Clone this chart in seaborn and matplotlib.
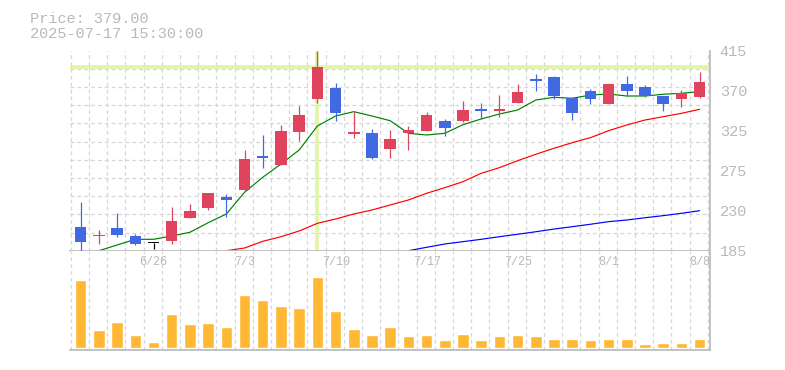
import numpy as np
import pandas as pd
import matplotlib
matplotlib.use("Agg")
import matplotlib.pyplot as plt
import matplotlib.transforms as mtransforms
import seaborn as sns

# daily candles, 2025-06-20 .. 2025-08-08 (35 sessions)
opens = [212.3, 201.5, 211.1, 201.9, 193.9, 196.2, 223.0, 234.5, 246.8, 254.8,
         293.9, 283.6, 321.9, 359.5, 372.1, 319.5, 320.4, 302.3, 320.7, 323.0,
         334.2, 334.5, 346.8, 346.0, 354.5, 382.1, 384.8, 360.3, 368.7, 354.0,
         376.7, 373.3, 362.9, 359.8, 362.1]
highs = [241.0, 208.8, 228.4, 203.9, 193.9, 235.6, 238.7, 251.4, 250.2, 300.8,
         318.0, 329.6, 351.4, 415.0, 378.2, 345.7, 325.0, 323.8, 328.4, 344.5,
         336.5, 357.2, 354.9, 364.0, 376.7, 388.2, 385.9, 361.4, 370.6, 377.9,
         385.9, 375.6, 362.9, 369.5, 390.5]
lows = [185.0, 193.0, 201.1, 191.9, 187.3, 193.0, 223.0, 231.7, 224.1, 253.7,
        280.5, 283.0, 311.5, 355.2, 334.5, 315.0, 290.8, 292.0, 301.2, 323.0,
        317.3, 333.4, 336.5, 338.4, 354.5, 369.0, 359.1, 335.3, 354.0, 354.0,
        363.3, 362.1, 346.0, 350.6, 361.0]
closes = [195.4, 202.5, 203.0, 193.0, 193.9, 219.2, 230.7, 251.4, 243.7, 290.5,
          292.0, 322.7, 341.0, 396.6, 343.7, 321.9, 292.0, 313.5, 323.8, 341.0,
          326.5, 346.8, 346.0, 346.8, 367.5, 380.5, 363.3, 343.7, 359.8, 376.7,
          369.0, 362.9, 354.0, 366.0, 379.0]
volumes = [677, 177, 257, 127, 57, 337, 237, 247, 207, 527,
           477, 417, 397, 707, 367, 187, 127, 207, 117, 127,
           77, 137, 77, 117, 127, 117, 87, 87, 77, 87,
           87, 37, 47, 47, 87]

# moving averages (short / mid / long)
ma_short = [np.nan, 185.0, 191.6, 198.1, 198.1, 201.9, 206.2, 217.2, 227.2, 252.2,
            269.4, 284.7, 300.8, 328.4, 339.9, 344.9, 339.9, 334.5, 320.0, 318.1,
            320.0, 329.9, 336.5, 342.2, 346.8, 358.3, 361.4, 360.3, 364.0, 365.2,
            362.9, 362.9, 364.9, 366.0, 367.9]
ma_mid = [np.nan] * 8 + [185.0, 188.1, 195.8, 201.1, 207.7, 216.5, 221.4, 227.2,
                         231.8, 237.6, 243.3, 251.0, 257.5, 264.4, 274.0, 280.5,
                         288.5, 295.9, 302.8, 309.2, 315.0, 323.0, 329.6, 335.3,
                         339.1, 343.0, 347.6]
ma_long = [np.nan] * 18 + [185.0, 188.9, 192.7, 195.4, 198.1, 201.1, 203.9, 206.8,
                           209.9, 212.6, 215.4, 218.4, 220.3, 222.9, 225.3, 228.0,
                           231.0]

date_labels = {4: "6/26", 9: "7/3", 14: "7/10", 19: "7/17", 24: "7/25", 29: "8/1", 34: "8/8"}
price_ticks = [415, 370, 325, 275, 230, 185]
cursor_index = 13
cursor_price = 396.6

df = pd.DataFrame({"i": np.arange(len(opens)), "open": opens, "high": highs,
                   "low": lows, "close": closes, "volume": volumes,
                   "ma_short": ma_short, "ma_mid": ma_mid, "ma_long": ma_long})

sns.set_style("white")
plt.rcParams["font.family"] = ["Liberation Mono", "DejaVu Sans Mono"]

UP = "#e0435e"
DOWN = "#4169e1"
GRID = "#d6d6d6"
AXIS = "#bdbdbd"
TXT = "#b9b9b9"

W, H = 785, 370
fig = plt.figure(figsize=(W / 100, H / 100), dpi=100)
ax = fig.add_axes([70 / W, 1 - 250.7 / H, 640 / W, 200 / H])
axv = fig.add_axes([70 / W, 1 - 350.3 / H, 640 / W, 99.6 / H])

xlim = (-0.59, 34.57)
grid_x = np.arange(-0.55, 34.6, 1.0)
ymin, ymax = 185, 415

for a in (ax, axv):
    a.set_xlim(*xlim)
    a.set_xticks(grid_x, minor=True)
    a.set_xticks([])
    a.grid(which="minor", axis="x", color=GRID, linestyle=(0, (3, 2.5)), lw=0.9)
    for s in ("left", "top"):
        a.spines[s].set_visible(False)
    for s in ("right", "bottom"):
        a.spines[s].set_color(AXIS)
        a.spines[s].set_linewidth(1.3)
    a.set_axisbelow(True)
    a.tick_params(which="both", length=0)

# price panel
ax.set_ylim(ymin, ymax)
ax.set_yticks(np.linspace(ymin, ymax, 12), minor=True)
ax.grid(which="minor", axis="y", color=GRID, linestyle=(0, (3, 2.5)), lw=0.9)
ax.yaxis.tick_right()
ax.set_yticks(np.linspace(ymax, ymin, 6))
ax.set_yticklabels([str(t) for t in price_ticks])
ax.tick_params(axis="y", which="major", labelsize=11, labelcolor=TXT, pad=7)

# cursor lines
ax.axvline(cursor_index, color="#e0f5a5", lw=2.6, zorder=1)
ax.axhline(cursor_price, color="#e0f5a5", lw=2.6, zorder=1)

# moving averages
sns.lineplot(data=df, x="i", y="ma_short", color="#008000", lw=0.85, ax=ax, zorder=2)
sns.lineplot(data=df, x="i", y="ma_mid", color="#ff0000", lw=0.85, ax=ax, zorder=2)
sns.lineplot(data=df, x="i", y="ma_long", color="#0000ff", lw=0.85, ax=ax, zorder=2)

# candles
for _, r in df.iterrows():
    if r["close"] > r["open"]:
        c = UP
    elif r["close"] < r["open"]:
        c = DOWN
    else:
        c = "black"
    ax.vlines(r["i"], r["low"], r["high"], color=c, lw=0.9, zorder=3)
    bottom = min(r["open"], r["close"])
    height = max(abs(r["close"] - r["open"]), 1.4)
    ax.bar(r["i"], height, bottom=bottom, width=0.63, color=c, lw=0, zorder=4)

ax.set_xlim(*xlim)
ax.set_ylim(ymin, ymax)
ax.set_xlabel("")
ax.set_ylabel("")

# volume panel
sns.barplot(data=df, x="i", y="volume", color="#ffb833", saturation=1,
            width=0.63, native_scale=True, ax=axv, zorder=2)
axv.set_xlim(*xlim)
axv.set_ylim(-27, 969)
axv.set_yticks([])
axv.set_xlabel("")
axv.set_ylabel("")

trans = mtransforms.blended_transform_factory(axv.transData, axv.transAxes)
for i, lab in date_labels.items():
    axv.text(i, (350.3 - 262) / 99.6, lab, transform=trans, ha="center", va="center",
             fontsize=8.5, color=TXT)

fig.text(30 / W, 1 - 22.7 / H, "Price: 379.00", fontsize=11, color=TXT, va="baseline")
fig.text(30 / W, 1 - 37.5 / H, "2025-07-17 15:30:00", fontsize=11, color=TXT, va="baseline")

fig.savefig("out.png", dpi=100, facecolor="white")
